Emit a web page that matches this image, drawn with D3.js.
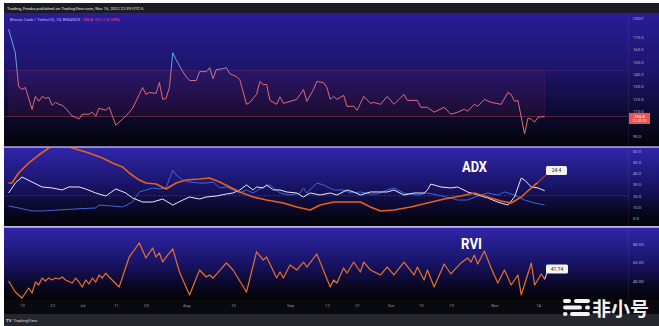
<!DOCTYPE html>
<html lang="en">
<head>
	<meta charset="UTF-8"/>
	<title>BCH/USDT 1D with ADX and RVI</title>
	<script src="https://d3js.org/d3.v7.min.js"></script>
	<style>
		body { margin: 0; background: #ffffff; }
		svg { display: block; font-family: Roboto, "DejaVu Sans", sans-serif; }
	</style>
</head>
<body>
<script>
	// ***Data*** (days are offsets from firstDay)
	var firstDay = "2022-06-13";
	var lastTickDay = "2022-11-14";

	var priceDays = [-4,-2,-1,0,1,3,4,5,6,7,8,9,10,11,12,13,15,16,17,18,20,21,22,23,25,26,27,28,30,31,32,33,35,36,37,38,40,41,42,43,44,45,46,48,49,50,52,53,55,56,57,58,60,61,62,64,65,67,68,70,71,72,73,74,76,77,78,80,82,84,85,87,88,90,91,92,93,94,96,97,99,100,102,104,105,107,109,111,114,115,118,119,121,123,126,128,130,132,133,135,136,138,140,143,145,146,147,148,150,151,152,153,154,156];
	var priceClose = [176.4,157.2,130,127.6,129.2,111.6,122,118,122,120.4,121.2,114.8,117.2,115.6,114.8,112.4,106,105.2,103.6,107.6,107.6,109.2,106,112.4,110.8,113.2,106,98.8,103.6,106,109.2,112.4,123.6,129.2,123.6,125.2,124.4,133.2,119.6,120.4,129.2,157.2,151.6,142,138,134.8,134.8,142,142,145.2,136.4,143.6,144.4,145.2,140.4,138,135.6,115.6,117.2,123.6,134,131.6,131.6,118.8,115.6,121.6,116.4,118,119.6,127.6,118,127.6,134,133.2,129.2,119.6,122,119.6,122.8,114,114,110.8,122,116.4,117.2,115.6,122,115.6,123.6,118.8,118.8,113.2,113.2,109.2,113.2,107.6,109.2,111.6,110,115.6,114,119.6,117.2,115.6,125.2,123.6,118,118.8,91.6,104.4,103.6,101.2,105.2,105.8];
	var lastPrice = 105.8;
	var boxTop = 143;

	var adxDays = [-4,-3,-1,2,5,8,10,13,16,20,24,27,30,32,35,37,40,43,46,49,53,56,59,62,65,69,73,78,82,86,89,93,97,101,104,107,111,116,121,126,131,135,139,143,146,149,152,154];
	var adxVals = [31.3,31.3,40.3,49.3,56.4,62.7,65.4,64.5,61.8,58.2,53.7,49.3,45.7,40.3,34.0,31.3,30.4,26.0,31.3,34.0,34.9,35.8,32.2,27.8,23.3,18.8,16.1,13.4,9.9,7.2,11.6,14.3,14.3,14.3,9.9,6.3,7.2,9.9,13.4,17.0,19.7,22.4,18.8,15.2,13.4,18.8,27,32];

	var plusDays = [-4,-2,0,3,6,9,12,14,17,19,22,25,28,31,33,36,39,42,43,45,48,50,53,55,58,61,63,65,67,69,70,72,73,75,77,79,82,84,86,89,92,94,97,99,101,104,106,109,111,114,117,120,121,122,125,128,130,133,136,139,142,145,147,149,150,152,154,156];
	var plusVals = [22.4,31.3,36.7,32.2,27.8,26.9,25.1,27.8,27.8,26.0,22.4,19.7,26.0,22.4,17.9,14.3,14.3,17.0,15.2,11.6,16.1,18.8,17.0,18.8,19.7,21.5,22.4,25.1,29.6,25.1,27.8,26.9,29.6,25.1,25.1,23.3,22.4,18.8,22.4,20.6,22.4,20.6,25.1,23.3,20.6,23.3,23.3,23.3,25.1,20.6,22.4,22.4,25.1,30.4,27.8,26.9,27.8,23.3,20.6,17.9,14.3,11.6,18.8,35.8,34.0,27.8,26.9,24.4];

	var minusDays = [-4,-1,3,6,11,16,22,23,27,30,33,35,37,39,41,43,45,46,48,50,53,55,57,59,61,63,65,67,69,72,74,77,80,83,84,85,88,90,93,96,98,101,104,106,109,111,114,118,121,124,128,130,133,136,139,142,144,147,150,153,156];
	var minusVals = [10.7,9.0,6.3,6.3,7.2,8.1,9.0,11.6,10.7,9.9,14.3,23.3,25.1,26.9,26.0,26.9,43.0,38.5,34.0,32.2,31.3,31.3,32.2,26.9,27.8,25.1,22.4,25.1,22.4,27.8,29.6,22.4,20.6,22.4,26.9,22.4,31.3,29.6,25.1,25.1,22.4,23.3,21.5,21.5,25.1,26.9,22.4,20.6,22.4,20.6,17.9,16.1,16.1,19.7,22.4,20.6,23.3,20.6,16.1,13.4,11.6];
	var adxLabel = "24.4";

	var rviDays = [-4,-2,0,2,3,4,5,6,7,8,9,10,11,12,13,15,16,17,18,19,20,21,22,23,24,25,26,29,32,35,37,39,40,41,42,43,45,47,50,53,55,56,57,61,63,67,70,72,73,76,77,78,80,82,84,85,88,92,93,94,96,97,99,101,102,104,107,109,111,114,117,118,120,121,123,126,128,131,133,134,135,136,138,140,142,144,146,148,149,152,153,155,156];
	var rviVals = [40.0,28.1,21.6,32.4,27.0,38.9,35.7,43.2,40.0,43.2,41.1,43.2,42.2,44.3,41.1,37.8,43.2,38.9,33.5,41.1,36.8,43.2,38.9,46.5,43.2,48.6,44.3,33.5,65.9,81.1,64.9,75.7,65.9,70.3,60.5,65.9,74.6,49.7,24.9,51.9,44.3,46.5,43.2,59.5,51.9,28.1,71.4,62.7,65.9,43.2,49.7,43.2,57.3,51.9,60.5,55.1,69.2,33.5,41.1,37.8,54.1,48.6,60.5,49.7,60.5,51.9,46.5,55.1,46.5,60.5,46.5,55.1,41.1,51.9,33.5,58.4,47.6,59.5,64.9,60.5,68.1,58.4,72.4,54.1,37.8,51.9,35.7,46.5,24.9,59.5,35.7,47.6,41.74];
	var rviLabel = "41.74";

	var tickDates = ["2022-06-13","2022-06-22","2022-07-01","2022-07-11","2022-07-20","2022-08-01","2022-08-15","2022-09-01","2022-09-12","2022-09-21","2022-10-01","2022-10-10","2022-10-19","2022-11-01","2022-11-14"];
	var tickLabels = ["13","22","Jul","11","20","Aug","15","Sep","12","21","Oct","10","19","Nov","14"];
	var priceTicks = [90,110,120,130,140,150,160,170];
	var adxTicks = [0,10,20,30,40,50,60];
	var rviTicks = [40,60,80];

	// ***Layout***
	var w = 659;
	var h = 326;
	var left = 4, plotRight = 628, axisX = 633;
	var mainP = { top: 13, bottom: 146.5 };
	var adxP = { top: 148, bottom: 226 };
	var rviP = { top: 228, bottom: 300 };

	var parse = d3.timeParse("%Y-%m-%d");
	var day0 = parse(firstDay);
	function dayOf(n) { return d3.timeDay.offset(day0, n); }

	var xScale = d3.scaleTime()
		.domain([day0, parse(lastTickDay)])
		.range([22, 538]);
	var yPrice = d3.scaleLinear().domain([90, 170]).range([136, 37]);
	var yAdx = d3.scaleLinear().domain([0, 60]).range([218, 151]);
	var yRvi = d3.scaleLinear().domain([40, 80]).range([281, 244]);

	var svg = d3.select("body")
		.append("svg")
		.attr("width", w)
		.attr("height", h);
	var defs = svg.append("defs");

	function vgrad(id, stops) {
		var g = defs.append("linearGradient").attr("id", id)
			.attr("x1", 0).attr("y1", 0).attr("x2", 0).attr("y2", 1);
		stops.forEach(function(s) {
			g.append("stop").attr("offset", s[0]).attr("stop-color", s[1]);
		});
	}
	vgrad("bgMain", [[0, "#2b1c98"], [0.45, "#1c1468"], [0.8, "#0b0928"], [1, "#040408"]]);
	vgrad("bgInd", [[0, "#3026aa"], [0.45, "#1a156c"], [0.85, "#07061a"], [1, "#040406"]]);

	var pg = defs.append("linearGradient").attr("id", "priceStroke")
		.attr("gradientUnits", "userSpaceOnUse")
		.attr("x1", 0).attr("x2", 0)
		.attr("y1", yPrice(150)).attr("y2", yPrice(137));
	pg.append("stop").attr("offset", 0).attr("stop-color", "#5aa6e0");
	pg.append("stop").attr("offset", 1).attr("stop-color", "#e06a78");

	function clip(id, p) {
		defs.append("clipPath").attr("id", id).append("rect")
			.attr("x", left).attr("y", p.top)
			.attr("width", plotRight - left).attr("height", p.bottom - p.top);
	}
	clip("clipMain", mainP);
	clip("clipAdx", adxP);
	clip("clipRvi", rviP);

	// ***Background***
	svg.append("rect").attr("width", w).attr("height", h).attr("fill", "#ffffff");
	svg.append("rect").attr("x", left).attr("y", 3).attr("width", w - left).attr("height", 10).attr("fill", "#1b1b24");
	[[mainP, "bgMain"], [adxP, "bgInd"], [rviP, "bgInd"]].forEach(function(p) {
		svg.append("rect").attr("x", left).attr("y", p[0].top)
			.attr("width", w - left).attr("height", p[0].bottom - p[0].top)
			.attr("fill", "url(#" + p[1] + ")");
	});
	svg.append("rect").attr("x", left).attr("y", rviP.bottom).attr("width", w - left).attr("height", 14).attr("fill", "#09090e");
	svg.append("rect").attr("x", left).attr("y", 314).attr("width", w - left).attr("height", 12).attr("fill", "#25262e");
	[147.2, 227.1].forEach(function(y) {
		svg.append("line").attr("x1", left).attr("x2", w).attr("y1", y).attr("y2", y)
			.attr("stroke", "#7a70d8").attr("stroke-width", 1.3);
	});
	svg.append("line").attr("x1", plotRight + 0.5).attr("x2", plotRight + 0.5).attr("y1", 13).attr("y2", 300)
		.attr("stroke", "#ffffff").attr("stroke-opacity", 0.06);

	svg.append("text").attr("x", 7).attr("y", 9.6)
		.attr("font-size", 4.2).attr("fill", "#e4e4ec")
		.text("Trading_Freaks published on TradingView.com, Nov 16, 2022 22:39 UTC-5");

	var legend = svg.append("text").attr("x", 10).attr("y", 20.6).attr("font-size", 4.2);
	legend.append("tspan").attr("fill", "#bdb3ff").text("Bitcoin Cash / TetherUS, 1D, BINANCE");
	legend.append("tspan").attr("dx", 2).attr("fill", "#e8608a").text("105.8  \u22120.1 (\u22120.10%)");

	function lineFor(yScale) {
		return d3.line()
			.x(function(d) { return xScale(dayOf(d[0])); })
			.y(function(d) { return yScale(d[1]); });
	}

	// ***Price panel***
	var x0 = xScale(dayOf(priceDays[0]));
	var x1 = xScale(dayOf(priceDays[priceDays.length - 1]));
	svg.append("rect")
		.attr("x", x0).attr("y", yPrice(boxTop))
		.attr("width", x1 - x0).attr("height", yPrice(lastPrice) - yPrice(boxTop))
		.attr("fill", "#b8305a").attr("fill-opacity", 0.09)
		.attr("stroke", "#c84060").attr("stroke-opacity", 0.18).attr("stroke-width", 0.6);
	svg.append("line")
		.attr("x1", left).attr("x2", plotRight).attr("y1", yPrice(boxTop)).attr("y2", yPrice(boxTop))
		.attr("stroke", "#d05070").attr("stroke-opacity", 0.22).attr("stroke-width", 0.7);
	svg.append("line")
		.attr("x1", left).attr("x2", plotRight).attr("y1", yPrice(lastPrice)).attr("y2", yPrice(lastPrice))
		.attr("stroke", "#e86070").attr("stroke-opacity", 0.4).attr("stroke-width", 0.7);

	svg.append("path")
		.datum(d3.zip(priceDays, priceClose))
		.attr("d", lineFor(yPrice))
		.attr("fill", "none")
		.attr("stroke", "url(#priceStroke)")
		.attr("stroke-width", 1)
		.attr("stroke-linejoin", "round")
		.attr("clip-path", "url(#clipMain)");

	function styleAxis(g, size, color) {
		g.attr("font-size", size).attr("font-family", null);
		g.select(".domain").remove();
		g.selectAll("text").attr("fill", color);
	}

	svg.append("g")
		.attr("transform", "translate(" + axisX + ",0)")
		.call(d3.axisRight(yPrice).tickValues(priceTicks).tickFormat(d3.format(".1f")).tickSize(0).tickPadding(0))
		.call(styleAxis, 4.2, "#b6b2d0");
	svg.append("text").attr("x", axisX).attr("y", 20).attr("font-size", 4.2).attr("fill", "#b6b2d0").text("USDT");

	var yp = yPrice(lastPrice);
	svg.append("rect").attr("x", 629).attr("y", yp - 3.5).attr("width", 21).attr("height", 11).attr("fill", "#ef5350");
	svg.append("text").attr("x", 639.5).attr("y", yp + 1.4).attr("text-anchor", "middle")
		.attr("font-size", 4.2).attr("fill", "#ffffff").text(d3.format(".1f")(lastPrice));
	svg.append("text").attr("x", 639.5).attr("y", yp + 6).attr("text-anchor", "middle")
		.attr("font-size", 3.6).attr("fill", "#ffffff").text("22:20:35");

	// ***ADX panel***
	svg.append("line")
		.attr("x1", left).attr("x2", plotRight).attr("y1", yAdx(20)).attr("y2", yAdx(20))
		.attr("stroke", "#9a98b8").attr("stroke-opacity", 0.6).attr("stroke-dasharray", "1,1.5").attr("stroke-width", 0.7);

	[[minusDays, minusVals, "#3f66dc", 1], [plusDays, plusVals, "#eceaf4", 1], [adxDays, adxVals, "#e8601e", 1.6]].forEach(function(s) {
		svg.append("path")
			.datum(d3.zip(s[0], s[1]))
			.attr("d", lineFor(yAdx))
			.attr("fill", "none")
			.attr("stroke", s[2])
			.attr("stroke-width", s[3])
			.attr("stroke-linejoin", "round")
			.attr("clip-path", "url(#clipAdx)");
	});

	svg.append("g")
		.attr("transform", "translate(" + axisX + ",0)")
		.call(d3.axisRight(yAdx).tickValues(adxTicks).tickFormat(d3.format(".1f")).tickSize(0).tickPadding(0))
		.call(styleAxis, 4.2, "#b6b2d0");

	svg.append("text").attr("x", 462).attr("y", 172)
		.attr("font-size", 15).attr("font-weight", "bold").attr("fill", "#ffffff")
		.attr("textLength", 25).attr("lengthAdjust", "spacingAndGlyphs").text("ADX");

	function callout(px, py, bx, by, bw, txt, color) {
		svg.append("line").attr("x1", px).attr("y1", py).attr("x2", bx + 1).attr("y2", by + 8)
			.attr("stroke", color).attr("stroke-width", 1);
		svg.append("rect").attr("x", bx).attr("y", by).attr("width", bw).attr("height", 9).attr("rx", 1.5)
			.attr("fill", "#f4f4f6");
		svg.append("text").attr("x", bx + bw / 2).attr("y", by + 6.3).attr("text-anchor", "middle")
			.attr("font-size", 5).attr("fill", "#1a1a22").text(txt);
	}
	callout(xScale(dayOf(adxDays[adxDays.length - 1])), yAdx(adxVals[adxVals.length - 1]), 546, 166, 21, adxLabel, "#e8601e");

	// ***RVI panel***
	svg.append("path")
		.datum(d3.zip(rviDays, rviVals))
		.attr("d", lineFor(yRvi))
		.attr("fill", "none")
		.attr("stroke", "#e8702c")
		.attr("stroke-width", 1.2)
		.attr("stroke-linejoin", "round")
		.attr("clip-path", "url(#clipRvi)");

	svg.append("g")
		.attr("transform", "translate(" + axisX + ",0)")
		.call(d3.axisRight(yRvi).tickValues(rviTicks).tickFormat(d3.format(".2f")).tickSize(0).tickPadding(0))
		.call(styleAxis, 4.2, "#b6b2d0");

	svg.append("text").attr("x", 461).attr("y", 249)
		.attr("font-size", 15).attr("font-weight", "bold").attr("fill", "#ffffff")
		.attr("textLength", 21).attr("lengthAdjust", "spacingAndGlyphs").text("RVI");

	callout(xScale(dayOf(rviDays[rviDays.length - 1])), yRvi(rviVals[rviVals.length - 1]), 546, 264.5, 22, rviLabel, "#e8e8f0");

	// ***Time axis***
	svg.append("g")
		.attr("transform", "translate(0,304.5)")
		.call(d3.axisBottom(xScale)
			.tickValues(tickDates.map(parse))
			.tickFormat(function(d, i) { return tickLabels[i]; })
			.tickSize(0).tickPadding(0))
		.call(styleAxis, 4.2, "#9a9cab");

	// ***Footer and watermark***
	var tv = svg.append("text").attr("x", 6).attr("y", 321.8).attr("font-size", 4.4).attr("fill", "#d6d6de");
	tv.append("tspan").attr("font-weight", "bold").text("TV");
	tv.append("tspan").attr("dx", 1.5).text("TradingView");

	var mark = svg.append("g").attr("fill", "#f2f2f4");
	[[563, 299, 8], [574, 299, 16], [563, 305.5, 19], [585, 305.5, 5], [563, 312, 4.5], [570, 312, 20]].forEach(function(b) {
		mark.append("rect").attr("x", b[0]).attr("y", b[1]).attr("width", b[2]).attr("height", 4).attr("rx", 2);
	});
	mark.append("text").attr("x", 592).attr("y", 315.5)
		.attr("font-size", 19).attr("font-weight", "bold")
		.attr("font-family", "'Noto Sans CJK SC', sans-serif")
		.text("非小号");
</script>
</body>
</html>
